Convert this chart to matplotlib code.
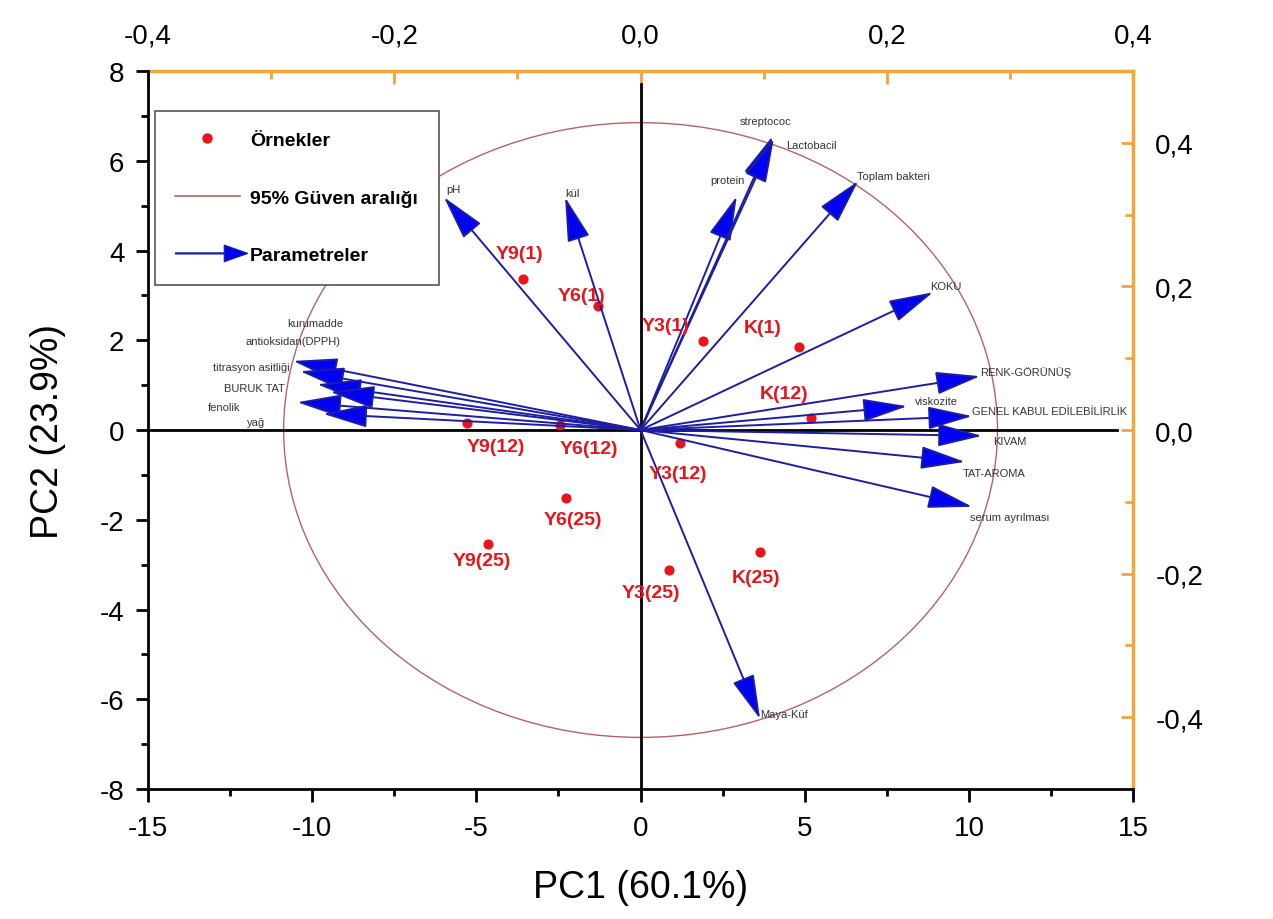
import matplotlib.pyplot as plt
from matplotlib.patches import Ellipse, FancyArrowPatch, FancyArrow
from matplotlib.lines import Line2D
from matplotlib.legend_handler import HandlerPatch
from matplotlib.ticker import MultipleLocator, FixedLocator, FuncFormatter

plt.rcParams['font.family'] = ['Liberation Sans', 'DejaVu Sans']
plt.rcParams['axes.unicode_minus'] = False

# sample scores
samples = ['Y9(1)', 'Y6(1)', 'Y3(1)', 'K(1)',
           'Y9(12)', 'Y6(12)', 'Y3(12)', 'K(12)',
           'Y9(25)', 'Y6(25)', 'Y3(25)', 'K(25)']
pc1 = [-3.58, -1.29, 1.90, 4.83, -5.28, -2.45, 1.20, 5.19, -4.66, -2.27, 0.87, 3.64]
pc2 = [3.36, 2.76, 1.98, 1.85, 0.16, 0.12, -0.29, 0.27, -2.54, -1.51, -3.12, -2.72]

# loadings (drawn in PC1/PC2 units)
params = ['kurumadde', 'antioksidan(DPPH)', 'titrasyon asitliği', 'BURUK TAT', 'fenolik', 'yağ',
          'pH', 'kül', 'protein', 'streptococ', 'Lactobacil', 'Toplam bakteri', 'KOKU',
          'RENK-GÖRÜNÜŞ', 'viskozite', 'GENEL KABUL EDİLEBİLİRLİK', 'KIVAM', 'TAT-AROMA',
          'serum ayrılması', 'Maya-Küf']
load1 = [-10.58, -10.37, -9.85, -9.45, -10.46, -9.67,
         -5.99, -2.30, 2.93, 4.02, 4.06, 6.63, 8.91,
         10.34, 8.12, 10.10, 10.40, 9.88, 10.10, 3.64]
load2 = [1.54, 1.31, 1.02, 0.85, 0.62, 0.36,
         5.19, 5.19, 5.21, 6.55, 6.50, 5.55, 3.07,
         1.20, 0.53, 0.31, -0.13, -0.71, -1.71, -6.44]

top_ticks = [-0.4, -0.2, 0.0, 0.2, 0.4]
right_ticks = [-0.4, -0.2, 0.0, 0.2, 0.4]

# label placement (pixels from point / arrow tip)
sample_off = [(-4, 26), (-17, 11), (-37, 16), (-36, 20),
              (29, -24), (29, -24), (-2, -30), (-27, 24),
              (-6, -17), (7, -22), (-18, -22), (-4, -25)]
param_off = [(50, 38, 'right'), (40, 30, 'right'), (-28, 17, 'right'), (-46, 4, 'right'),
             (-57, -5, 'right'), (-58, -8, 'right'),
             (2, 8, 'left'), (0, 4, 'left'), (-9, 16, 'center'), (-7, 15, 'center'),
             (12, -7, 'left'), (-1, 5, 'left'), (-3, 6, 'left'), (0, 5, 'left'),
             (8, 5, 'left'), (0, 5, 'left'), (11, -5, 'left'), (-2, -11, 'left'),
             (-2, -10, 'left'), (0, 5, 'left')]

ORANGE = '#F3A43A'
RED = '#E8141B'
LINE_BLUE = '#1E1EA0'
HEAD_BLUE = '#0000F2'
ELL = '#B26464'

fig = plt.figure(figsize=(12.73, 9.2), dpi=100)
ax = fig.add_axes([0.1163, 0.1413, 0.7738, 0.7804])
ax.set_xlim(-15, 15)
ax.set_ylim(-8, 8)

ax.add_patch(Ellipse((0, 0), 2 * 10.87, 2 * 6.85, fill=False, ec=ELL, lw=1.0, zorder=1))
ax.axhline(0, xmax=0.984, color='black', lw=2, zorder=2)
ax.axvline(0, ymax=0.982, color='black', lw=2, zorder=2)

ax.scatter(pc1, pc2, s=40, color=RED, zorder=3)

for x, y in zip(load1, load2):
    arr = FancyArrowPatch((0, 0), (x, y), arrowstyle='-|>,head_length=1.4,head_width=0.36',
                          mutation_scale=20, shrinkA=0, shrinkB=0, lw=1.4,
                          edgecolor=LINE_BLUE, facecolor=HEAD_BLUE, zorder=4)
    ax.add_patch(arr)

for name, x, y, (dx, dy, ha) in zip(params, load1, load2, param_off):
    ax.annotate(name, (x, y), xytext=(dx, dy), textcoords='offset pixels',
                ha=ha, va='center', fontsize=8, color='#333333', zorder=5)

for name, x, y, (dx, dy) in zip(samples, pc1, pc2, sample_off):
    ax.annotate(name, (x, y), xytext=(dx, dy), textcoords='offset pixels',
                ha='center', va='center', fontsize=14, fontweight='bold', color=RED, zorder=6)

# main axes
ax.spines['top'].set_visible(False)
ax.spines['right'].set_visible(False)
ax.spines['left'].set_linewidth(2)
ax.spines['bottom'].set_linewidth(2)
ax.xaxis.set_major_locator(MultipleLocator(5))
ax.xaxis.set_minor_locator(MultipleLocator(2.5))
ax.yaxis.set_major_locator(MultipleLocator(2))
ax.yaxis.set_minor_locator(MultipleLocator(1))
ax.tick_params(which='major', direction='out', length=9, width=2, labelsize=20)
ax.tick_params(which='minor', direction='out', length=5, width=2)
ax.tick_params(axis='x', pad=10)
ax.tick_params(axis='y', pad=8)
ax.set_xlabel('PC1 (60.1%)', fontsize=27, labelpad=20)
ax.set_ylabel('PC2 (23.9%)', fontsize=27, labelpad=24)

comma = FuncFormatter(lambda v, p: ('%.1f' % (round(v, 2) + 0.0)).replace('.', ','))

top = ax.secondary_xaxis('top', functions=(lambda x: x * 0.4 / 15, lambda t: t * 15 / 0.4))
top.xaxis.set_major_locator(FixedLocator(top_ticks))
top.xaxis.set_minor_locator(FixedLocator([-0.3, -0.1, 0.1, 0.3]))
top.xaxis.set_major_formatter(comma)
top.spines['top'].set_color(ORANGE)
top.spines['top'].set_linewidth(2.5)
top.tick_params(which='both', direction='in', color=ORANGE, width=2, labelsize=20, pad=16)
top.tick_params(which='major', length=9)
top.tick_params(which='minor', length=6)

right = ax.secondary_yaxis('right', functions=(lambda y: y * 0.5 / 8, lambda r: r * 8 / 0.5))
right.yaxis.set_major_locator(FixedLocator(right_ticks))
right.yaxis.set_minor_locator(FixedLocator([-0.3, -0.1, 0.1, 0.3]))
right.yaxis.set_major_formatter(comma)
right.spines['right'].set_color(ORANGE)
right.spines['right'].set_linewidth(2.5)
right.tick_params(which='both', direction='in', color=ORANGE, width=2, labelsize=20, pad=16)
right.tick_params(which='major', length=9)
right.tick_params(which='minor', length=6)


# legend
def make_arrow(legend, orig_handle, xdescent, ydescent, width, height, fontsize):
    return FancyArrow(-xdescent, height / 2 - ydescent, width + 6, 0, width=0.8,
                      head_width=12, head_length=17, length_includes_head=True)


h_pts = Line2D([], [], marker='o', ms=6.5, ls='none', color=RED)
h_ell = Line2D([], [], color=ELL, lw=1.2)
h_arr = FancyArrow(0, 0, 1, 0, fc=HEAD_BLUE, ec=LINE_BLUE, lw=0.8)
leg = ax.legend([h_pts, h_ell, h_arr], ['Örnekler', '95% Güven aralığı', 'Parametreler'],
                handler_map={FancyArrow: HandlerPatch(patch_func=make_arrow)},
                loc='upper left', bbox_to_anchor=(0.007, 0.944), borderaxespad=0,
                prop={'weight': 'bold', 'size': 14}, handlelength=3.3, handletextpad=0.55,
                labelspacing=2.05, borderpad=1.05, fancybox=False, framealpha=1,
                edgecolor='#555555')
leg.get_frame().set_linewidth(1.2)
leg.set_zorder(7)

fig.savefig('out.png', dpi=100)
